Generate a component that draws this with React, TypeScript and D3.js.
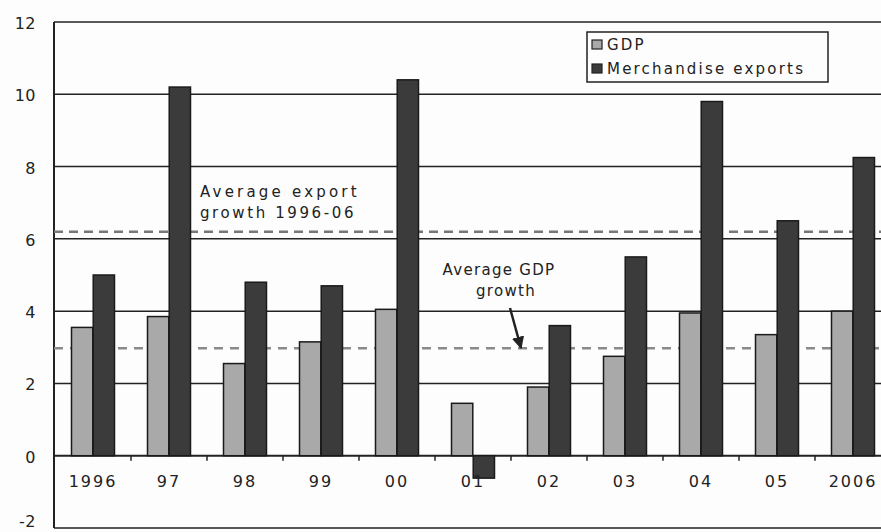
import * as d3 from 'd3';

const years = ['1996', '97', '98', '99', '00', '01', '02', '03', '04', '05', '2006'];
const gdp = [3.55, 3.85, 2.55, 3.15, 4.05, 1.45, 1.9, 2.75, 3.95, 3.35, 4.0];
const exportsGrowth = [5.0, 10.2, 4.8, 4.7, 10.4, -0.62, 3.6, 5.5, 9.8, 6.5, 8.25];
const seriesNames = ['GDP', 'Merchandise exports'];
const yTicks = [-2, 0, 2, 4, 6, 8, 10, 12];
const avgExport = 6.2;
const avgGdp = 2.97;

const W = 881;
const H = 532;
const font = '"DejaVu Sans", Verdana, sans-serif';
const colors = ['#a9a9a9', '#3b3b3b'];

export default function App() {
  const left = 54;
  const right = 891;
  const y = d3.scaleLinear().domain([-2, 12]).range([528, 22]);
  const x0 = d3.scaleBand<string>().domain(years).range([left + 1, right]).padding(0);
  const x1 = d3
    .scaleBand<number>()
    .domain([0, 1])
    .range([0, x0.bandwidth()])
    .paddingInner(0.02)
    .paddingOuter(0.76);

  const series = [gdp, exportsGrowth];

  return (
    <svg
      width={W}
      height={H}
      viewBox={`0 0 ${W} ${H}`}
      style={{ position: 'absolute', left: 0, top: 0, background: '#fdfdfd' }}
      fontFamily={font}
    >
      {/* grid */}
      {yTicks.map((t) => (
        <line
          key={t}
          x1={left}
          x2={W}
          y1={y(t)}
          y2={y(t)}
          stroke="#222"
          strokeWidth={t === 0 ? 2 : 1.5}
        />
      ))}
      <line x1={left} x2={left} y1={y(12)} y2={y(-2)} stroke="#222" strokeWidth={2} />
      {yTicks.map((t) => (
        <text
          key={t}
          x={36}
          y={t === -2 ? H - 5 : y(t) + 7}
          textAnchor="end"
          fontSize={16}
          letterSpacing={0.5}
          fill="#222"
        >
          {t}
        </text>
      ))}

      {/* averages */}
      <line x1={left} x2={W} y1={y(avgExport)} y2={y(avgExport)} stroke="#777" strokeWidth={2.5} strokeDasharray="9 6" />
      <line x1={left} x2={W} y1={y(avgGdp)} y2={y(avgGdp)} stroke="#8a8a8a" strokeWidth={2.5} strokeDasharray="9 7" />

      {/* bars */}
      {years.map((yr, i) => (
        <g key={yr} transform={`translate(${x0(yr)},0)`}>
          {series.map((s, k) => {
            const v = s[i];
            return (
              <rect
                key={k}
                x={x1(k)}
                y={y(Math.max(0, v))}
                width={x1.bandwidth()}
                height={Math.abs(y(v) - y(0))}
                fill={colors[k]}
                stroke="#1a1a1a"
                strokeWidth={1.5}
              />
            );
          })}
        </g>
      ))}

      {/* x axis ticks and labels */}
      {years.slice(1).map((yr) => (
        <line key={yr} x1={x0(yr)} x2={x0(yr)} y1={y(0)} y2={y(0) + 5} stroke="#222" strokeWidth={1.5} />
      ))}
      {years.map((yr) => (
        <text
          key={yr}
          x={(x0(yr) ?? 0) + x0.bandwidth() / 2}
          y={y(0) + 31}
          textAnchor="middle"
          fontSize={16}
          letterSpacing={2}
          fill="#222"
        >
          {yr}
        </text>
      ))}

      {/* annotations */}
      <g fontSize={15} fill="#222">
        <text x={200} y={197} letterSpacing={3.2}>Average export</text>
        <text x={200} y={218} letterSpacing={2.6}>growth 1996-06</text>
        <text x={499} y={275} textAnchor="middle" letterSpacing={1.3}>Average GDP</text>
        <text x={506} y={296} textAnchor="middle" letterSpacing={1.3}>growth</text>
      </g>
      <defs>
        <marker id="arr" viewBox="0 0 10 10" refX={9} refY={5} markerWidth={5} markerHeight={5} orient="auto">
          <path d="M0,0 L10,5 L0,10 z" fill="#222" />
        </marker>
      </defs>
      <line x1={510} y1={308} x2={521} y2={348} stroke="#222" strokeWidth={2.5} markerEnd="url(#arr)" />

      {/* legend */}
      <rect x={587} y={32} width={241} height={50} fill="#fdfdfd" stroke="#222" strokeWidth={1.5} />
      {seriesNames.map((n, k) => (
        <g key={n} transform={`translate(592,${45 + k * 24})`}>
          <rect x={0} y={-5} width={10} height={9} fill={colors[k]} stroke="#222" strokeWidth={1.2} />
          <text x={15} y={5} fontSize={15} fill="#222" letterSpacing={2.2}>
            {n}
          </text>
        </g>
      ))}
    </svg>
  );
}
